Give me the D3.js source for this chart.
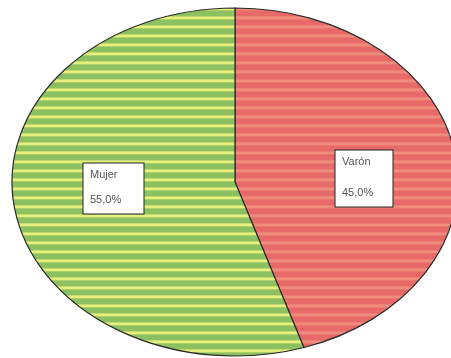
<!DOCTYPE html>
<html>
<head>
<meta charset="utf-8">
<script src="https://cdn.jsdelivr.net/npm/d3@7"></script>
<style>
  html, body { margin: 0; padding: 0; background: #fff; }
  svg { display: block; }
</style>
</head>
<body>
<script>
// Gender split of respondents
const categories = ["Varón", "Mujer"];
const values = [45.0, 55.0];
const valueLabels = ["45,0%", "55,0%"];

const W = 451, H = 358;
const cx = 235, cy = 182, rx = 223, ry = 174;

const svg = d3.select("body").append("svg")
  .attr("width", W).attr("height", H);

const defs = svg.append("defs");
const fills = {
  "Varón": { base: "#e76a68", stripe: "#f08c7c" },
  "Mujer": { base: "#8cc060", stripe: "#e6ef7c" }
};
const period = 9;
categories.forEach((c, i) => {
  const p = defs.append("pattern")
    .attr("id", "stripe" + i)
    .attr("patternUnits", "userSpaceOnUse")
    .attr("width", 40).attr("height", period);
  p.append("rect").attr("width", 40).attr("height", period).attr("fill", fills[c].base);
  p.append("rect").attr("y", period * 0.6).attr("width", 40).attr("height", period * 0.33)
    .attr("fill", fills[c].stripe);
});

const soft = defs.append("filter").attr("id", "soft");
soft.append("feGaussianBlur").attr("stdDeviation", 0.4);

const pie = d3.pie().sort(null).value(d => d)
  .startAngle(0).endAngle(2 * Math.PI);
const arc = d3.arc().innerRadius(0).outerRadius(ry);
const arcs = pie(values);

// The pie is drawn as a circle of radius ry, stretched horizontally into an ellipse
const g = svg.append("g")
  .attr("filter", "url(#soft)")
  .attr("transform", `translate(${cx},${cy}) scale(${rx / ry},1)`);

g.selectAll("path.slice")
  .data(arcs)
  .join("path")
  .attr("class", "slice")
  .attr("d", arc)
  .attr("fill", (d, i) => `url(#stripe${i})`)
  .attr("stroke", "#2a2a2a")
  .attr("stroke-width", 1.2)
  .attr("vector-effect", "non-scaling-stroke");

// Label boxes
const labelBoxes = [
  { x: 335, y: 150, w: 58, h: 57, t1: 165, t2: 196 },
  { x: 83, y: 163, w: 61, h: 51, t1: 178, t2: 203 }
];
const lg = svg.append("g").attr("filter", "url(#soft)");
labelBoxes.forEach((b, i) => {
  lg.append("rect")
    .attr("x", b.x).attr("y", b.y).attr("width", b.w).attr("height", b.h)
    .attr("fill", "#fff").attr("stroke", "#222").attr("stroke-width", 1);
  lg.append("text")
    .attr("x", b.x + 7).attr("y", b.t1)
    .attr("font-family", "Liberation Sans, Arial, sans-serif")
    .attr("font-size", 11).attr("fill", "#555")
    .text(categories[i]);
  lg.append("text")
    .attr("x", b.x + 7).attr("y", b.t2)
    .attr("font-family", "Liberation Sans, Arial, sans-serif")
    .attr("font-size", 11).attr("fill", "#555")
    .text(valueLabels[i]);
});
</script>
</body>
</html>
